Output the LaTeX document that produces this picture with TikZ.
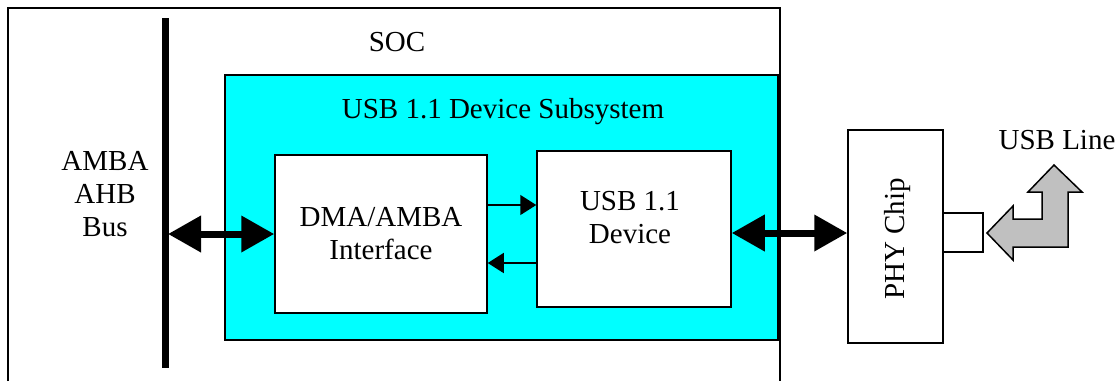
\documentclass[tikz,border=0pt]{standalone}
\usepackage{fontspec}
\setmainfont{Liberation Serif}
\usetikzlibrary{positioning,calc,arrows.meta}
\tikzset{>=stealth}
\tikzset{
  box/.style={draw,line width=0.75pt,inner sep=0pt},
  txt/.style={align=center,font=\fontsize{14.5}{16.5}\selectfont},
  bigarrow/.style={line width=3.5pt,{Triangle[length=16.5pt,width=17.5pt]}-{Triangle[length=16.5pt,width=17.5pt]}},
  smallarrow/.style={line width=0.75pt,-{Triangle[length=8pt,width=10pt]}}
}

\begin{document}
\begin{tikzpicture}[x=0.5pt,y=-0.5pt]
\useasboundingbox (0,0) rectangle (1118,381);
% SOC frame, open at the bottom
\draw[line width=0.75pt] (8,381) -- (8,8) -- (780,8) -- (780,381);
\node[txt] (soc) at (397,42) {SOC};
% AHB bus
\coordinate (bustop) at (165.5,18);
\coordinate (busbot) at (165.5,368);
\draw[line width=3.5pt] (bustop) -- (busbot);
\node[txt] (bus) at (105,194) {AMBA\\AHB\\Bus};
% subsystem and its blocks
\node[box,fill={rgb,255:red,0;green,255;blue,255},minimum width=276.5pt,minimum height=132.5pt] (sub) at (501.5,207.5) {};
\node[txt] (subname) at (503,112) {USB 1.1 Device Subsystem};
\node[box,fill=white,minimum width=106pt,minimum height=79pt,txt] (dma) at (381,234) {DMA/AMBA\\Interface};
\node[box,fill=white,minimum width=97pt,minimum height=78pt] (dev) at (634,229) {};
\node[txt] (devname) at (630,218) {USB 1.1\\Device};
\node[box,fill=white,minimum width=47.5pt,minimum height=106.5pt] (phy) at (895.5,236.5) {};
\node[txt,rotate=90] (phyname) at (898,239) {PHY Chip};
\node[box,fill=white,minimum width=20pt,minimum height=19.5pt] (port) at (963,232.5) {};
% connections
\coordinate (busleft) at (168,234);
\draw[bigarrow] (busleft) -- (dma.west |- busleft);
\draw[bigarrow] (dev.east |- 0,233) -- (phy.west |- 0,233);
\draw[smallarrow] (dma.east |- 0,205) -- (dev.west |- 0,205);
\draw[smallarrow] (dev.west |- 0,263) -- (dma.east |- 0,263);
% USB line
\draw[line width=0.75pt,fill={rgb,255:red,192;green,192;blue,192}]
  (987,233) -- (1013,206) -- (1013,219) -- (1042,219) -- (1042,192)
  -- (1028,192) -- (1054,165) -- (1082,192) -- (1068,192) -- (1068,247)
  -- (1013,247) -- (1013,260) -- cycle;
\node[txt] (usbline) at (1057,140) {USB Line};
\end{tikzpicture}
\end{document}
